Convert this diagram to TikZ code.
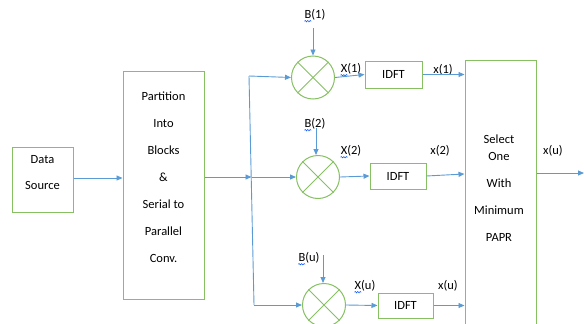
\documentclass[tikz,border=0pt]{standalone}
\usepackage{fontspec}
\setmainfont{Carlito}
\usetikzlibrary{arrows.meta,decorations.pathmorphing}
\definecolor{gr}{HTML}{86C062}
\definecolor{bl}{HTML}{5B9BD5}
\begin{document}
\begin{tikzpicture}[x=1pt,y=-1pt,
  box/.style={draw=gr,line width=1pt,fill=white,inner sep=0pt},
  mult/.style={draw=gr,line width=1pt,circle,minimum size=43pt,inner sep=0pt},
  arr/.style={draw=bl,line width=0.9pt,-{Triangle[length=6pt,width=5pt]}},
  ln/.style={draw=bl,line width=0.9pt},
  lbl/.style={font=\fontsize{12.5}{15}\selectfont,inner sep=0pt},
  txt/.style={font=\fontsize{12.5}{27}\selectfont,align=center,inner sep=0pt},
  wavy/.style={draw=blue!70!cyan,line width=0.5pt,decorate,decoration={snake,amplitude=0.7pt,segment length=2.5pt}}]
\useasboundingbox (0,0) rectangle (584,324);
% boxes
\node[box,minimum width=61pt,minimum height=65pt] (ds) at (42.5,179.5) {};
\node[txt] (dst) at (42.5,173) {Data\\[-1pt]Source};
\node[box,minimum width=81pt,minimum height=228pt] (pp) at (163.5,185) {};
\node[txt] (ppt) at (163.5,177) {Partition\\Into\\Blocks\\\&\\Serial to\\Parallel\\Conv.};
\node[box,minimum width=71pt,minimum height=290pt] (sel) at (500.5,205) {};
\node[txt] (selt) at (499,188) {Select\\[-10pt]One\\With\\Minimum\\PAPR};
% multipliers
\node[mult] (c1) at (313,77.5) {};
\node[mult] (c2) at (318,177) {};
\node[mult] (c3) at (324,305) {};
\foreach \c in {c1,c2,c3}{
  \draw[gr,line width=1pt] (\c.north west) -- (\c.south east);
  \draw[gr,line width=1pt] (\c.north east) -- (\c.south west);
}
% IDFT boxes
\node[box,minimum width=57pt,minimum height=27pt,font=\fontsize{12.5}{15}\selectfont] (i1) at (393.5,74.5) {IDFT};
\node[box,minimum width=56pt,minimum height=26pt,font=\fontsize{12.5}{15}\selectfont] (i2) at (398,176) {IDFT};
\node[box,minimum width=55pt,minimum height=25pt,font=\fontsize{12.5}{15}\selectfont] (i3) at (405.5,305.5) {IDFT};
% labels
\node[lbl] (b1) at (315,15) {B(1)};
\node[lbl] (b2) at (315,124) {B(2)};
\node[lbl] (bu) at (309,258) {B(u)};
\node[lbl] (X1) at (351,69) {X(1)};
\node[lbl] (X2) at (351,151) {X(2)};
\node[lbl] (Xu) at (365,286) {X(u)};
\node[lbl] (x1) at (443,70) {x(1)};
\node[lbl] (x2) at (440,151) {x(2)};
\node[lbl] (xu) at (448,286) {x(u)};
\node[lbl] (xo) at (553,151) {x(u)};
\foreach \n in {b1,b2,bu,X1,X2,Xu}{
  \draw[wavy] ([yshift=-2.5pt]\n.base west) -- ++(7,0);
}
% connectors
\coordinate (t) at (249,76);
\coordinate (m) at (251.5,177);
\coordinate (b) at (254,305);
\coordinate (o) at (584,173);
\draw[arr] (ds.east |- 0,178) -- (pp.west |- 0,178);
\draw[arr] (pp.east |- m) -- (m);
\draw[ln] (t) -- (b);
\draw[arr] (t) -- (c1.west);
\draw[arr] (m) -- (c2.west);
\draw[arr] (b) -- (c3.west);
\draw[arr] (c1 |- 0,28) -- (c1.north);
\draw[arr] ([xshift=-2pt]c2 |- 0,128) -- ([xshift=-2pt]c2.north);
\draw[arr] ([xshift=-1pt]c3 |- 0,255) -- ([xshift=-1pt]c3.north);
\draw[arr] (c1.east) -- (i1.west);
\draw[arr] (c2.east) -- (i2.west);
\draw[arr] (c3.east) -- (i3.west);
\draw[arr] (i1.east) -- (sel.west |- i1.east);
\draw[arr] (i2.east) -- (sel.west |- 0,174);
\draw[arr] (i3.east) -- (sel.west |- i3.east);
\draw[arr] (sel.east |- o) -- (o);
\end{tikzpicture}
\end{document}
